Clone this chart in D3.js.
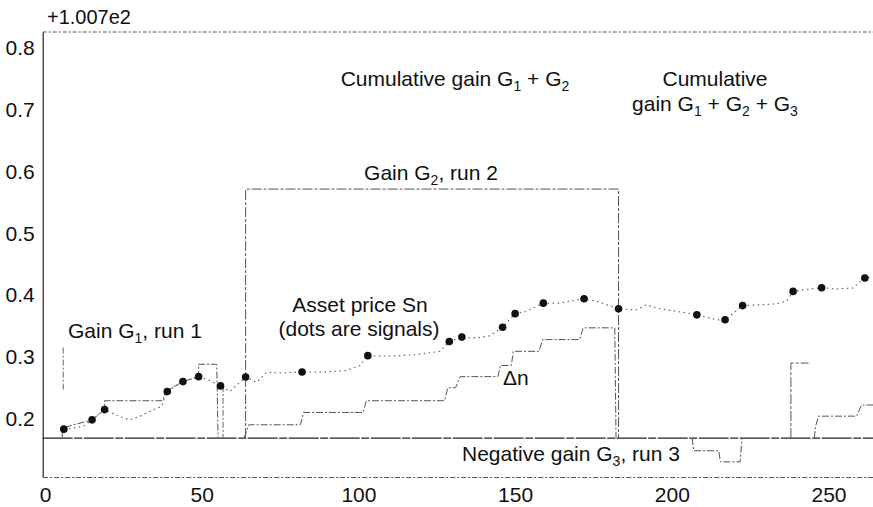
<!DOCTYPE html>
<html>
<head>
<meta charset="utf-8">
<script src="https://cdn.jsdelivr.net/npm/d3@7/dist/d3.min.js"></script>
<style>
  html, body { margin: 0; padding: 0; background: #fff; }
  svg { display: block; }
  text { font-family: "Liberation Sans", Arial, Helvetica, sans-serif; fill: #111; }
</style>
</head>
<body>
<svg id="chart" width="873" height="507"></svg>
<script>
// ---------------- data ----------------
const offsetLabel = "+1.007e2";
const xTicks = [0, 50, 100, 150, 200, 250];
const yTicks = [0.2, 0.3, 0.4, 0.5, 0.6, 0.7, 0.8];

// signals (dots) on asset price
const signalX = [6, 15, 19, 39, 44, 49, 56, 64, 82, 103, 129, 133, 146, 150, 159, 172, 183, 208, 217, 222.6, 238.7, 247.8, 261.6];
const signalY = [0.183, 0.198, 0.2146, 0.244, 0.260, 0.268, 0.253, 0.2675, 0.2756, 0.302, 0.325, 0.332, 0.348, 0.370, 0.387, 0.394, 0.378, 0.368, 0.360, 0.383, 0.406, 0.412, 0.4277];

// asset price Sn (dotted line)
const priceX = [6, 9, 12.2, 15, 19, 23, 27, 30.3, 33.5, 37.2, 39, 44, 49, 52, 56, 59, 64, 67.5, 70.7, 75, 82, 85.6, 91, 96.2, 100.5, 103, 107.9, 113, 118.6, 126, 129, 133, 137.7, 141.9, 146, 150, 153.6, 159, 164.3, 168.5, 172, 176, 179.2, 183, 188.7, 191.9, 195.1, 201.5, 205, 208, 212.1, 214.3, 217, 222.6, 229.1, 233.4, 236.6, 238.7, 242.9, 247.8, 252.5, 257.8, 261.6, 264];
const priceY = [0.183, 0.185, 0.1875, 0.198, 0.2146, 0.205, 0.198, 0.204, 0.212, 0.220, 0.244, 0.260, 0.268, 0.263, 0.253, 0.244, 0.2675, 0.2587, 0.275, 0.274, 0.2756, 0.275, 0.276, 0.278, 0.286, 0.302, 0.301, 0.302, 0.3036, 0.309, 0.325, 0.332, 0.3306, 0.334, 0.348, 0.370, 0.3736, 0.387, 0.387, 0.391, 0.394, 0.390, 0.3845, 0.378, 0.376, 0.3845, 0.379, 0.3736, 0.371, 0.368, 0.363, 0.360, 0.360, 0.383, 0.3845, 0.386, 0.390, 0.406, 0.409, 0.412, 0.410, 0.4115, 0.4277, 0.429];

// zero-gain baseline
const baseX = [-0.75, 264.2];
const baseY = [0.1684, 0.1684];

// gain G1, run 1
const g1X = [5.5, 5.5, 15, 19, 19, 37.5, 38.5, 44, 49, 49, 54.8, 55.2];
const g1Y = [0.1684, 0.185, 0.198, 0.2146, 0.229, 0.229, 0.244, 0.260, 0.268, 0.288, 0.288, 0.1684];

// run 1 start marker
const mark1X = [5.8, 5.8];
const mark1Y = [0.247, 0.315];

// drop after run 1
const drop1X = [56.8, 56.8];
const drop1Y = [0.253, 0.1684];

// gain G2, run 2 (frame)
const boxX = [64, 64, 183, 183];
const boxY = [0.1684, 0.5717, 0.5717, 0.1684];

// gain path in run 2 (Δn)
const g2X = [63.5, 65, 81.5, 82.5, 101.5, 102.5, 127.5, 128.5, 131, 132.5, 144.5, 145.3, 148.8, 149.4, 157.6, 158.8, 170.6, 171.7, 181.8, 182.2];
const g2Y = [0.1684, 0.190, 0.190, 0.210, 0.210, 0.229, 0.229, 0.250, 0.250, 0.268, 0.268, 0.286, 0.286, 0.309, 0.309, 0.328, 0.328, 0.347, 0.347, 0.1684];

// negative gain G3, run 3
const g3X = [206.5, 207, 215, 215.5, 221.8, 222.4];
const g3Y = [0.1684, 0.148, 0.148, 0.130, 0.130, 0.1684];

// run 4 frame and gain
const box4X = [238, 238, 243.6];
const box4Y = [0.1684, 0.290, 0.290];
const g4X = [245.5, 245.8, 246.8, 259, 260.5, 264.2];
const g4Y = [0.1684, 0.186, 0.204, 0.204, 0.222, 0.222];

// ---------------- drawing ----------------
const svg = d3.select("#chart");
const x = d3.scaleLinear().domain([-0.75, 264.2]).range([42.7, 873]);
const y = d3.scaleLinear().domain([0.1055, 0.826]).range([477, 32]);

const line = d3.line().x(d => x(d[0])).y(d => y(d[1]));
const pts = (xs, ys) => xs.map((v, i) => [v, ys[i]]);

// frame top (dotted)
svg.append("path")
  .attr("d", line([[x.domain()[0], y.domain()[1]], [x.domain()[1], y.domain()[1]]]))
  .attr("fill", "none").attr("stroke", "#555").attr("stroke-width", 1)
  .attr("stroke-dasharray", "4,2,2,2");

// x axis (bottom frame)
const xAxis = svg.append("g")
  .attr("transform", `translate(0,${y.range()[0]})`)
  .call(d3.axisBottom(x).tickValues(xTicks).tickSize(0).tickPadding(10).tickFormat(d3.format("d")));
xAxis.select(".domain").attr("stroke", "#555").attr("stroke-dasharray", "5,2,2,2");
xAxis.selectAll("text").attr("font-size", 21).style("font-family", "Liberation Sans, Arial, sans-serif").attr("fill", "#111");

// y axis
const yAxis = svg.append("g")
  .attr("transform", `translate(${x.range()[0]},0)`)
  .call(d3.axisLeft(y).tickValues(yTicks).tickSize(0).tickPadding(8).tickFormat(d3.format(".1f")));
yAxis.select(".domain").attr("stroke", "#222").attr("stroke-width", 1.2);
yAxis.selectAll("text").attr("font-size", 21).style("font-family", "Liberation Sans, Arial, sans-serif").attr("fill", "#111");

// offset label
svg.append("text").attr("x", 47).attr("y", 24).attr("font-size", 20).text(offsetLabel);

// baseline
svg.append("path").attr("d", line(pts(baseX, baseY)))
  .attr("fill", "none").attr("stroke", "#222").attr("stroke-width", 1.3)
  .attr("stroke-dasharray", "30,1.5,8,1.5");

// G2 frame
svg.append("path").attr("d", line(pts(boxX, boxY)))
  .attr("fill", "none").attr("stroke", "#555").attr("stroke-width", 1)
  .attr("stroke-dasharray", "10,2,3,2");

// run 4 frame
svg.append("path").attr("d", line(pts(box4X, box4Y)))
  .attr("fill", "none").attr("stroke", "#555").attr("stroke-width", 1)
  .attr("stroke-dasharray", "10,2,3,2");

// markers
[[mark1X, mark1Y], [drop1X, drop1Y]].forEach(([xs, ys]) => {
  svg.append("path").attr("d", line(pts(xs, ys)))
    .attr("fill", "none").attr("stroke", "#666").attr("stroke-width", 1)
    .attr("stroke-dasharray", "6,2,2,2");
});

// step gain lines
[[g1X, g1Y], [g2X, g2Y], [g3X, g3Y], [g4X, g4Y]].forEach(([xs, ys]) => {
  svg.append("path").attr("d", line(pts(xs, ys)))
    .attr("fill", "none").attr("stroke", "#555").attr("stroke-width", 1)
    .attr("stroke-dasharray", "7,2,2,2");
});

// asset price line
svg.append("path").attr("d", line(pts(priceX, priceY)))
  .attr("fill", "none").attr("stroke", "#666").attr("stroke-width", 1.2)
  .attr("stroke-dasharray", "1.5,3.5");

// signal dots
svg.append("g").selectAll("circle").data(pts(signalX, signalY)).join("circle")
  .attr("cx", d => x(d[0])).attr("cy", d => y(d[1])).attr("r", 3.8).attr("fill", "#111");

// ---------------- annotations ----------------
// parts: strings, or {sub: "1"} for subscripts
function label(xp, yp, parts, anchor) {
  const t = svg.append("text").attr("x", xp).attr("y", yp).attr("font-size", 21)
    .attr("text-anchor", anchor || "start");
  let shift = 0;
  parts.forEach(p => {
    if (typeof p === "string") {
      t.append("tspan").attr("dy", -shift).text(p);
      shift = 0;
    } else {
      t.append("tspan").attr("font-size", 14).attr("dy", 5).text(p.sub);
      shift = 5;
    }
  });
  return t;
}
label(455, 86, ["Cumulative gain G", {sub: "1"}, " + G", {sub: "2"}], "middle");
label(715, 86, ["Cumulative"], "middle");
label(715, 111, ["gain G", {sub: "1"}, " + G", {sub: "2"}, " + G", {sub: "3"}], "middle");
label(431, 180, ["Gain G", {sub: "2"}, ", run 2"], "middle");
label(360, 312, ["Asset price Sn"], "middle");
label(359, 336, ["(dots are signals)"], "middle");
label(68, 338, ["Gain G", {sub: "1"}, ", run 1"]);
label(503, 385, ["\u0394n"]);
label(462, 461, ["Negative gain G", {sub: "3"}, ", run 3"]);
</script>
</body>
</html>
